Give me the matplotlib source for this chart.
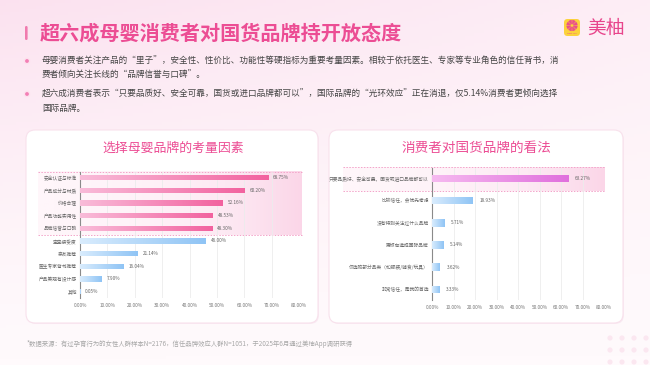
import numpy as np
import matplotlib
matplotlib.use('Agg')
import matplotlib.pyplot as plt
from matplotlib.colors import LinearSegmentedColormap
from matplotlib.patches import FancyBboxPatch, Circle, Wedge

plt.rcParams['font.family'] = ['Noto Sans CJK SC', 'DejaVu Sans']

# ── data ────────────────────────────────────────────────────────────────
left_cats = ['安全认证与标准', '产品成分与材质', '价格合理', '产品功能实用性', '品牌信誉与口碑',
             '宝宝接受度', '亲友推荐', '医生专家背书推荐', '产品美观有设计感', '其他']
left_vals = [68.75, 60.20, 52.16, 48.53, 48.30, 46.00, 21.14, 16.04, 7.90, 0.05]
left_hot = 5  # first five rows are highlighted

right_cats = ['只要品质好、安全可靠，国货或进口品牌都可以', '比较信任，会优先考虑', '没有特别关注过什么品牌',
              '更倾向选择国际品牌', '仅选购部分品类（如服装/辅食/玩具）', '非常信任，是我的首选']
right_vals = [63.27, 18.93, 5.71, 5.14, 3.62, 3.33]
right_hot = 1

x_ticks = [0, 10, 20, 30, 40, 50, 60, 70, 80]

title = '超六成母婴消费者对国货品牌持开放态度'
bullet1 = ['母婴消费者关注产品的“里子”，安全性、性价比、功能性等硬指标为重要考量因素。相较于依托医生、专家等专业角色的信任背书，消',
           '费者倾向关注长线的“品牌信誉与口碑”。']
bullet2 = ['超六成消费者表示“只要品质好、安全可靠，国货或进口品牌都可以”，国际品牌的“光环效应”正在消退，仅5.14%消费者更倾向选择',
           '国际品牌。']
footer = '*数据来源：有过孕育行为的女性人群样本N=2176，信任品牌效应人群N=1051，于2025年6月通过美柚App调研获得'

PINK = '#ec4d94'
pink_cm = LinearSegmentedColormap.from_list('pk', ['#f9bcd9', '#f2629f'])
blue_cm = LinearSegmentedColormap.from_list('bl', ['#d9ecfd', '#8fc4f5'])
violet_cm = LinearSegmentedColormap.from_list('vi', ['#f6baf0', '#e06fdd'])
hl_cm = LinearSegmentedColormap.from_list('hl', ['#fff6fa', '#fde9f3', '#fbd6e8'])

W, H = 650, 365
fig = plt.figure(figsize=(6.5, 3.65), dpi=100)

# ── background layer in pixel coordinates ───────────────────────────────
bg = fig.add_axes([0, 0, 1, 1], zorder=0)
gx, gy = np.meshgrid(np.linspace(0, 1, 200), np.linspace(0, 1, 120))
shade = np.clip(0.75 * (1 - gy) ** 1.5 * (1 - 0.6 * gx) + 0.15 * (1 - gy), 0, 1)
bg_cm = LinearSegmentedColormap.from_list('bg', ['#fffafc', '#fbdfee'])
bg.imshow(shade, extent=[0, W, H, 0], aspect='auto', cmap=bg_cm, vmin=0, vmax=1)
bg.set_xlim(0, W)
bg.set_ylim(H, 0)
bg.axis('off')

# title
bg.add_patch(FancyBboxPatch((25, 26), 2.6, 14, boxstyle='round,pad=0,rounding_size=1.3',
                            fc='#f07aae', ec='none'))
bg.text(40, 33, title, fontsize=14.5, fontweight='bold', color=PINK, va='center', ha='left')

# logo
bg.add_patch(FancyBboxPatch((564, 19), 16, 17, boxstyle='round,pad=0,rounding_size=3.5',
                            fc='#fcd23c', ec='none'))
for a in np.arange(0, 360, 45):
    bg.add_patch(Wedge((572, 25.5), 5.6, a + 3, a + 42, fc='#ea4f8c', ec='none'))
bg.add_patch(Circle((572, 25.5), 1.3, fc='#fcd23c', ec='none'))
bg.text(572, 33, 'Meet You', fontsize=1.7, color='#ea4f8c', ha='center', va='center')
bg.text(587, 28, '美柚', fontsize=13.5, color='#e8458c', va='center', ha='left')

# bullets
for y0, lines in ((61, bullet1), (94, bullet2)):
    bg.add_patch(Circle((27, y0), 3.2, fc='#fde0ee', ec='none'))
    bg.add_patch(Circle((27, y0), 1.9, fc='#f37fb5', ec='none'))
    for k, line in enumerate(lines):
        bg.text(42, y0 + 14 * k, line, fontsize=6.2, color='#444444', va='center', ha='left')

# panels
for x0, x1 in ((26, 318), (329, 623)):
    bg.add_patch(FancyBboxPatch((x0 + 1, 131), x1 - x0, 193, boxstyle='round,pad=0,rounding_size=9',
                                fc='#f7e3ee', ec='none', alpha=0.6))
    bg.add_patch(FancyBboxPatch((x0, 130), x1 - x0, 193, boxstyle='round,pad=0,rounding_size=9',
                                fc='white', ec='#f8e1ec', lw=0.8))

bg.text(173, 148, '选择母婴品牌的考量因素', fontsize=9.3, color=PINK, ha='center', va='center')
bg.text(476, 148, '消费者对国货品牌的看法', fontsize=9.8, color=PINK, ha='center', va='center')

# highlight bands
for hx0, hx1, hy0, hy1 in ((38, 302, 171.7, 235), (343, 605, 167, 190.7)):
    grad = np.linspace(0, 1, 256)[None, :] ** 2
    bg.imshow(grad, extent=[hx0, hx1, hy1, hy0], aspect='auto', cmap=hl_cm, vmin=0, vmax=1, zorder=2)
    for yy in (hy0, hy1):
        bg.plot([hx0, hx1], [yy, yy], ls=(0, (1.5, 1.5)), color='#f3a3c9', lw=0.7, zorder=3)
bg.set_xlim(0, W)
bg.set_ylim(H, 0)

# decorative dots bottom right
for cx in (610, 622, 634, 646):
    for cy in (338, 350, 362):
        bg.add_patch(Circle((cx, cy), 2.6, fc='#fbe3ee', ec='none', alpha=0.8))

bg.text(27, 344, footer, fontsize=4.6, color='#a8a8a8', ha='left', va='center')


def gradient_bars(ax, bars, cmaps):
    for bar, cm in zip(bars, cmaps):
        x, y = bar.get_x(), bar.get_y()
        w, h = bar.get_width(), bar.get_height()
        if w <= 0:
            continue
        im = ax.imshow(np.linspace(0, 1, 256)[None, :], extent=[x, x + w, y + h, y],
                       aspect='auto', cmap=cm, zorder=3, interpolation='bilinear')
        im.set_clip_path(bar)
        bar.set_facecolor('none')


def style_chart(ax, cats, ylim):
    ax.set_facecolor('none')
    ax.set_xlim(0, 80)
    ax.set_ylim(*ylim)
    ax.set_xticks(x_ticks)
    ax.set_xticklabels([f'{t:.2f}%' for t in x_ticks])
    ax.set_yticks(range(len(cats)))
    ax.set_yticklabels(cats)
    ax.tick_params(axis='x', length=0, pad=3.5, labelsize=3.4, labelcolor='#777777')
    ax.tick_params(axis='y', length=0, pad=2.2, labelsize=3.4, labelcolor='#666666')
    for s in ('top', 'right', 'bottom'):
        ax.spines[s].set_visible(False)
    ax.spines['left'].set_color('#8a8a8a')
    ax.spines['left'].set_linewidth(0.8)
    ax.grid(axis='x', color='#ececec', lw=0.6)
    ax.set_axisbelow(True)


# ── left chart ──────────────────────────────────────────────────────────
axl = fig.add_axes([80 / W, 1 - 298 / H, 219 / W, (298 - 171.7) / H], zorder=1)
yl = np.arange(len(left_cats))
bars_l = axl.barh(yl, left_vals, height=0.42, zorder=3)
gradient_bars(axl, bars_l, [pink_cm if i < left_hot else blue_cm for i in yl])
for i, v in enumerate(left_vals):
    axl.annotate(f'{v:.2f}%', (v, i), xytext=(3.6, 0), textcoords='offset points',
                 fontsize=3.4, color='#666666', va='center', ha='left')
style_chart(axl, left_cats, (9.5, -0.47))

# ── right chart ─────────────────────────────────────────────────────────
axr = fig.add_axes([432 / W, 1 - 300 / H, 172 / W, (300 - 167.7) / H], zorder=1)
yr = np.arange(len(right_cats))
bars_r = axr.barh(yr, right_vals, height=0.34, zorder=3)
gradient_bars(axr, bars_r, [violet_cm if i < right_hot else blue_cm for i in yr])
for i, v in enumerate(right_vals):
    axr.annotate(f'{v:.2f}%', (v, i), xytext=(5, 0), textcoords='offset points',
                 fontsize=3.4, color='#666666', va='center', ha='left')
style_chart(axr, right_cats, (5.48, -0.48))

fig.savefig('out.png', dpi=100)
